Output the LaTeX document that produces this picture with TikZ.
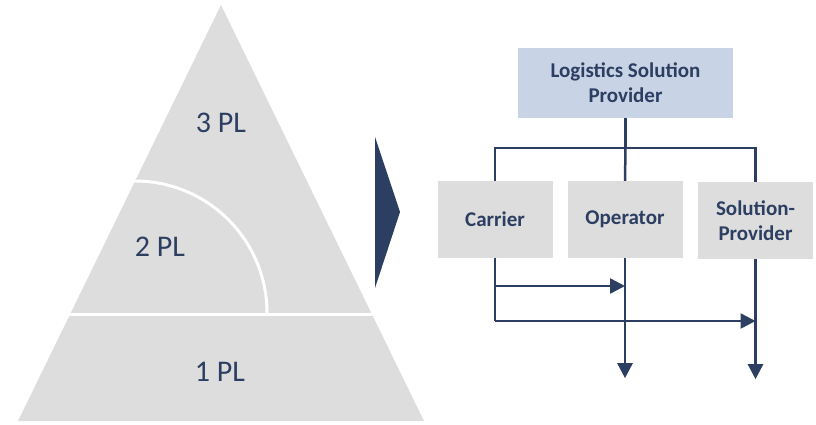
\documentclass[tikz,border=0pt]{standalone}
\usepackage{fontspec}
\setmainfont{Carlito}
\usepackage{tikz}
\usetikzlibrary{arrows.meta, positioning}
\definecolor{navy}{HTML}{2C3E61}
\definecolor{boxgrey}{HTML}{DDDDDD}
\definecolor{boxblue}{HTML}{C8D3E5}

\begin{document}
\begin{tikzpicture}[
    x=1bp, y=-1bp,
    every node/.style={text=navy},
    plabel/.style={font=\fontsize{30bp}{36bp}\selectfont},
    topbox/.style={rectangle, fill=boxblue, minimum width=215bp, minimum height=70bp, align=center, font=\fontsize{21bp}{25bp}\selectfont\bfseries},
    subbox/.style={rectangle, fill=boxgrey, minimum width=115bp, minimum height=77bp, align=center, font=\fontsize{21bp}{25bp}\selectfont\bfseries},
    link/.style={draw=navy, line width=2.5bp},
    arr/.style={link, -{Triangle[length=15bp, width=15bp]}}
]
\useasboundingbox (0,0) rectangle (816,424);

% Pyramid
\fill[boxgrey] (221,5) -- (424,421) -- (18,421) -- cycle;
\draw[white, line width=3bp] (60,314.5) -- (385,314.5);
\draw[white, line width=3bp] (135,181) arc[start angle=-90, end angle=0, radius=132];
\node[plabel] (pl3) at (221,123) {3 PL};
\node[plabel] (pl2) at (160,247) {2 PL};
\node[plabel] (pl1) at (220,372) {1 PL};

% Chevron
\fill[navy] (375,137) -- (400,212) -- (375,288) -- cycle;

% Provider boxes
\node[topbox] (lsp) at (625.5,83) {Logistics Solution\\Provider};
\node[subbox] (carrier) at (495,219.5) {Carrier};
\node[subbox] (operator) at (625,219.5) {Operator};
\node[subbox] (solprov) at (755.5,220.5) {Solution-\\Provider};

% Tree connectors
\coordinate (bar) at (625.5,148);
\draw[link] (lsp.south) -- (bar);
\draw[link] (carrier.north) |- (bar) -| (solprov.north);
\draw[link] (bar) -- (operator.north);

% Arrows below
\draw[link] (carrier.south) -- (carrier.south |- 0,321);
\draw[arr] (carrier.south |- 0,286) -- (operator.south |- 0,286);
\draw[arr] (carrier.south |- 0,321) -- (solprov.south |- 0,321);
\draw[arr] (operator.south) -- ++(0,120);
\draw[arr] (solprov.south) -- ++(0,120);

\end{tikzpicture}
\end{document}
